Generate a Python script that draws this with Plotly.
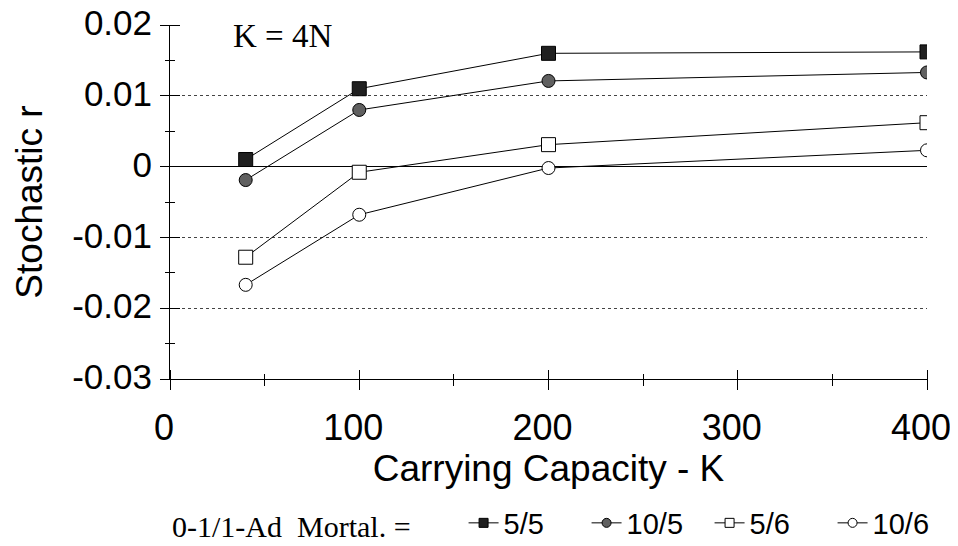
import plotly.graph_objects as go

# ---- data ----
K = [40, 100, 200, 400]
r_5_5 = [0.001, 0.011, 0.016, 0.0162]
r_10_5 = [-0.0019, 0.008, 0.0121, 0.0133]
r_5_6 = [-0.0128, -0.0008, 0.0031, 0.0062]
r_10_6 = [-0.0167, -0.0068, -0.0002, 0.0023]
series_names = ["5/5", "10/5", "5/6", "10/6"]

x_ticks = [0, 100, 200, 300, 400]
x_minor = [50, 150, 250, 350]
y_ticks = [-0.03, -0.02, -0.01, 0, 0.01, 0.02]
y_tick_text = ["-0.03", "-0.02", "-0.01", "0", "0.01", "0.02"]
y_minor = [-0.025, -0.015, -0.005, 0.005, 0.015]
grid_vals = [-0.02, -0.01, 0.01]

X_RANGE = [0, 400]
Y_RANGE = [-0.03, 0.02]

SANS = "Liberation Sans, Arial, sans-serif"
SERIF = "Liberation Serif, Times New Roman, serif"

styles = [
    dict(symbol="square", color="#202020", line=dict(color="black", width=1)),
    dict(symbol="circle", color="#606060", line=dict(color="black", width=1)),
    dict(symbol="square", color="white", line=dict(color="black", width=1)),
    dict(symbol="circle", color="white", line=dict(color="black", width=1)),
]
sizes = [14, 13, 14, 13]

fig = go.Figure()
for name, vals, st, sz in zip(series_names, [r_5_5, r_10_5, r_5_6, r_10_6], styles, sizes):
    fig.add_trace(go.Scatter(
        x=K, y=vals, name=name, mode="lines+markers", showlegend=False,
        line=dict(color="black", width=1),
        marker=dict(size=sz, **st),
    ))
# legend entries (smaller symbols, as in the reference key)
for name, st in zip(series_names, styles):
    fig.add_trace(go.Scatter(
        x=[None], y=[None], name=name, mode="lines+markers",
        line=dict(color="black", width=1),
        marker=dict(size=9, **st),
    ))

# empty traces to register helper axes (crossing ticks, gridlines)
for xa, ya in [("x2", "y"), ("x3", "y"), ("x", "y2"), ("x", "y3"), ("x", "y4")]:
    fig.add_trace(go.Scatter(x=[], y=[], xaxis=xa, yaxis=ya, showlegend=False,
                             hoverinfo="skip"))

# page has an 8px body margin: figure origin sits at (8, 8)
OFF = 8
W, H = 950, 538
L, T = 162, 17
pw, ph = 757, 354
R = W - L - pw
B = H - T - ph


def px_x(page_x):
    return (page_x - OFF - L) / pw


def px_y(page_y):
    return 1 - (page_y - OFF - T) / ph


fig.update_layout(
    width=W, height=H,
    margin=dict(l=L, r=R, t=T, b=B, autoexpand=False),
    paper_bgcolor="white", plot_bgcolor="white",
    font=dict(family=SANS, color="black"),
    showlegend=True,
    xaxis=dict(
        range=X_RANGE, tickvals=x_ticks, ticks="", showgrid=False, zeroline=False,
        showline=True, linecolor="black", linewidth=1,
        tickfont=dict(family=SANS, size=36), ticklabelstandoff=17, ticklabelshift=-6,
        ticklabeloverflow="allow",
        title=dict(text="Carrying Capacity - K", font=dict(family=SANS, size=37), standoff=2),
    ),
    xaxis2=dict(
        range=X_RANGE, overlaying="x", anchor="free", position=10 / ph, side="bottom",
        tickvals=x_ticks, ticks="outside", ticklen=20, tickcolor="black", tickwidth=1,
        showticklabels=False, showgrid=False, zeroline=False, showline=False,
    ),
    xaxis3=dict(
        range=X_RANGE, overlaying="x", anchor="free", position=6 / ph, side="bottom",
        tickvals=x_minor, ticks="outside", ticklen=12, tickcolor="black", tickwidth=1,
        showticklabels=False, showgrid=False, zeroline=False, showline=False,
    ),
    yaxis=dict(
        range=Y_RANGE, tickvals=y_ticks, ticktext=y_tick_text, ticks="",
        showgrid=False, zeroline=True, zerolinecolor="black", zerolinewidth=1,
        showline=True, linecolor="black", linewidth=1,
        tickfont=dict(family=SANS, size=35), ticklabelstandoff=10, ticklabelshift=-2,
        ticklabeloverflow="allow",
        title=dict(text="Stochastic r", font=dict(family=SANS, size=37), standoff=18),
    ),
    yaxis2=dict(
        range=Y_RANGE, overlaying="y", anchor="free", position=10 / pw, side="left",
        tickvals=y_ticks, ticks="outside", ticklen=20, tickcolor="black", tickwidth=1,
        showticklabels=False, showgrid=False, zeroline=False, showline=False,
    ),
    yaxis3=dict(
        range=Y_RANGE, overlaying="y", anchor="free", position=5 / pw, side="left",
        tickvals=y_minor, ticks="outside", ticklen=10,
        tickcolor="black", tickwidth=1,
        showticklabels=False, showgrid=False, zeroline=False, showline=False,
    ),
    yaxis4=dict(
        range=Y_RANGE, overlaying="y", anchor="x", side="left",
        tickvals=grid_vals, ticks="", showticklabels=False,
        showgrid=True, gridcolor="#444444", gridwidth=1, griddash="dot",
        zeroline=False, showline=False,
    ),
    legend=dict(
        orientation="h", x=0, xanchor="left", y=px_y(523), yanchor="middle",
        font=dict(family=SANS, size=29, color="black"),
        title=dict(text="0-1/1-Ad  Mortal. =\u00a0\u00a0\u00a0\u00a0\u00a0\u00a0",
                   font=dict(family=SERIF, size=30), side="left"),
        entrywidthmode="pixels", entrywidth=78,
        bgcolor="rgba(0,0,0,0)",
    ),
    annotations=[
        dict(text="K = 4N", xref="paper", yref="paper", x=px_x(282), y=px_y(36),
             xanchor="center", yanchor="middle", showarrow=False,
             font=dict(family=SERIF, size=33, color="black")),
    ],
)

fig.write_html("out.html")
